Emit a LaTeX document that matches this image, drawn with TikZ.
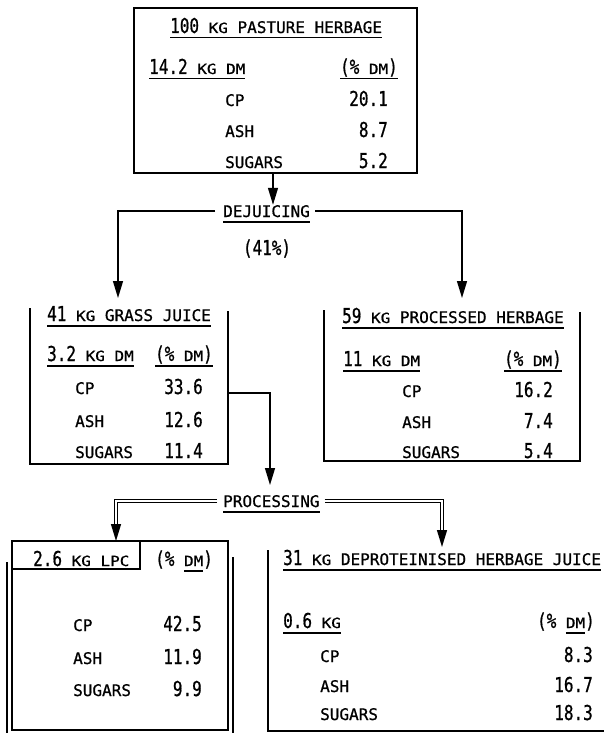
\documentclass[tikz,border=0pt]{standalone}
\usepackage{fontspec}
\setmainfont{DejaVu Sans Mono}[FakeBold=0.8]
\newfontfamily\digfont{DejaVu Sans Mono}[FakeStretch=0.78,FakeBold=0.8]
\newfontfamily\smfont{DejaVu Sans Mono}[FakeStretch=1.14,FakeBold=0.8]
\newcommand{\dig}[1]{{\fontsize{20.5}{22}\digfont #1}}
\newcommand{\sm}[1]{{\fontsize{14}{15}\smfont #1}}
\newcommand{\ul}[1]{\setbox0\hbox{#1}\rlap{\rule[-5.5pt]{\wd0}{1.2pt}}\box0}
\usetikzlibrary{arrows.meta,positioning}

\begin{document}
\begin{tikzpicture}[x=1pt,y=-1pt,
    every node/.style={inner sep=0pt,font=\fontsize{16}{18}\selectfont},
    lbl/.style={anchor=base west},
    val/.style={anchor=base east},
    head/.style={anchor=base west,text height=12pt,text depth=0pt},
    frame/.style={line width=1.3pt},
    link/.style={line width=1.3pt},
    tip/.style={-{Triangle[width=10pt,length=17pt]}},
    dbl/.style={double,double distance=2pt,line width=1.2pt}]
    \useasboundingbox (0,0) rectangle (604,733);

    % pasture herbage
    \draw[frame] (134,8) rectangle (417,173);
    \node[lbl] (past) at (170,33) {\ul{\dig{100} \sm{KG} PASTURE HERBAGE}};
    \node[lbl] (pastdm) at (149,74) {\ul{\dig{14.2} \sm{KG DM}}};
    \node[val] (pastpc) at (398,74) {\ul{\dig{(\%} \sm{DM}\dig{)}}};
    \node[lbl] (pastcp) at (225,106) {CP};
    \node[val] (pastcpv) at (388,106) {\dig{20.1}};
    \node[lbl] (pastash) at (225,137) {ASH};
    \node[val] (pastashv) at (388,137) {\dig{8.7}};
    \node[lbl] (pastsug) at (225,168) {SUGARS};
    \node[val] (pastsugv) at (388,168) {\dig{5.2}};
    \coordinate (pastout) at (273,173);

    % dejuicing
    \node[head] (dej) at (223,217) {\ul{DEJUICING}};
    \node[anchor=base] (yield) at (267,255) {\dig{(41\%)}};
    \coordinate (juicein) at (118,298);
    \coordinate (herbin) at (462,298);
    \draw[link,tip] (pastout) -- (pastout |- dej.north);
    \draw[link,tip] ([xshift=-8pt]dej.west) -| (juicein);
    \draw[link,tip] ([xshift=5pt]dej.east) -| (herbin);

    % grass juice
    \draw[frame] (30,308) -- (30,464) -- (228,464) -- (228,311);
    \node[lbl] (juice) at (47,321) {\ul{\dig{41} \sm{KG} GRASS JUICE}};
    \node[lbl] (juicedm) at (47,361) {\ul{\dig{3.2} \sm{KG DM}}};
    \node[val] (juicepc) at (213,361) {\ul{\dig{(\%} \sm{DM}\dig{)}}};
    \node[lbl] (juicecp) at (75,394) {CP};
    \node[val] (juicecpv) at (203,394) {\dig{33.6}};
    \node[lbl] (juiceash) at (75,427) {ASH};
    \node[val] (juiceashv) at (203,427) {\dig{12.6}};
    \node[lbl] (juicesug) at (75,458) {SUGARS};
    \node[val] (juicesugv) at (203,458) {\dig{11.4}};
    \coordinate (juiceout) at (228,393);

    % processed herbage
    \draw[frame] (324,310) -- (324,461) -- (580,461) -- (580,312);
    \node[lbl] (herb) at (342,323) {\ul{\dig{59} \sm{KG} PROCESSED HERBAGE}};
    \node[lbl] (herbdm) at (343,366) {\ul{\dig{11} \sm{KG DM}}};
    \node[val] (herbpc) at (562,366) {\ul{\dig{(\%} \sm{DM}\dig{)}}};
    \node[lbl] (herbcp) at (402,397) {CP};
    \node[val] (herbcpv) at (553,397) {\dig{16.2}};
    \node[lbl] (herbash) at (402,428) {ASH};
    \node[val] (herbashv) at (553,428) {\dig{7.4}};
    \node[lbl] (herbsug) at (402,458) {SUGARS};
    \node[val] (herbsugv) at (553,458) {\dig{5.4}};

    % processing
    \node[head] (proc) at (223,507) {\ul{PROCESSING}};
    \coordinate (procin) at (270,485);
    \coordinate (lpcin) at (116,541);
    \coordinate (dpjin) at (442,547);
    \draw[link,tip] (juiceout) -| (procin);
    \draw[dbl] ([xshift=-6pt]proc.west) -| ([yshift=14pt]lpcin);
    \draw[link,tip] ([yshift=16pt]lpcin) -- (lpcin);
    \draw[dbl] ([xshift=5pt]proc.east) -| ([yshift=14pt]dpjin);
    \draw[link,tip] ([yshift=16pt]dpjin) -- (dpjin);

    % leaf protein concentrate
    \draw[frame] (12,541) rectangle (228,730);
    \draw[frame] (12,569) -| (140,541);
    \draw[frame] (7,562) -- (7,733);
    \draw[frame] (233,557) -- (233,733);
    \node[lbl] (lpc) at (33,566) {\dig{2.6} \sm{KG LPC}};
    \node[lbl] (lpcpc) at (155,566) {\dig{(\%} \ul{\sm{DM}}\dig{)}};
    \node[lbl] (lpccp) at (73,631) {CP};
    \node[val] (lpccpv) at (202,631) {\dig{42.5}};
    \node[lbl] (lpcash) at (73,664) {ASH};
    \node[val] (lpcashv) at (202,664) {\dig{11.9}};
    \node[lbl] (lpcsug) at (73,696) {SUGARS};
    \node[val] (lpcsugv) at (202,696) {\dig{9.9}};

    % deproteinised juice
    \draw[frame] (268,550) -- (268,731) -- (604,731);
    \node[lbl] (dpj) at (283,565) {\ul{\dig{31} \sm{KG} DEPROTEINISED HERBAGE JUICE}};
    \node[lbl] (dpjdm) at (283,628) {\ul{\dig{0.6} \sm{KG}}};
    \node[val] (dpjpc) at (595,628) {\dig{(\%} \ul{\sm{DM}}\dig{)}};
    \node[lbl] (dpjcp) at (320,662) {CP};
    \node[val] (dpjcpv) at (593,662) {\dig{8.3}};
    \node[lbl] (dpjash) at (320,692) {ASH};
    \node[val] (dpjashv) at (593,692) {\dig{16.7}};
    \node[lbl] (dpjsug) at (320,720) {SUGARS};
    \node[val] (dpjsugv) at (593,720) {\dig{18.3}};
\end{tikzpicture}
\end{document}
